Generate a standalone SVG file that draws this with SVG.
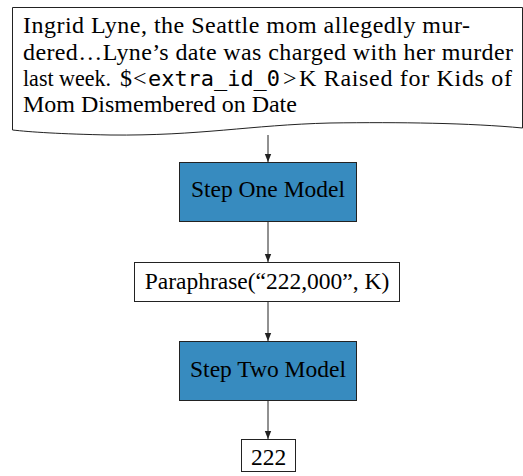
<svg xmlns="http://www.w3.org/2000/svg" width="523" height="476" viewBox="0 0 523 476">
<style>
.t{font-family:"Liberation Serif","Times New Roman",serif;font-size:23.5px;fill:#000}
.d{font-size:24px}
.m{font-family:"DejaVu Sans Mono","Liberation Mono",monospace;font-size:22px}
.box{fill:#fff;stroke:#222;stroke-width:1}
.blue{fill:#378bbf;stroke:#222;stroke-width:1}
.c{stroke:#222;stroke-width:1;fill:none}
</style>
<defs>
<marker id="ah" viewBox="0 0 10 10" refX="10" refY="5" markerWidth="8" markerHeight="8" markerUnits="userSpaceOnUse" orient="auto">
<path d="M0,1 L10,5 L0,9 Z" fill="#222"/>
</marker>
</defs>
<g id="doc">
<path class="box" d="M12.5,7.5 H522.5 V128 C470,123 400,122 330,123 C250,125 200,136 110,135 C60,134 30,132 12.5,130 Z"/>
<text class="t d" x="23" y="33" textLength="447" lengthAdjust="spacing">Ingrid Lyne, the Seattle mom allegedly mur-</text>
<text class="t d" x="23" y="60" textLength="490" lengthAdjust="spacing">dered…Lyne’s date was charged with her murder</text>
<text class="t d" y="86"><tspan x="23" textLength="88" lengthAdjust="spacingAndGlyphs">last week.</tspan><tspan x="120">$</tspan><tspan x="133">&lt;</tspan><tspan x="148" class="m" textLength="132" lengthAdjust="spacingAndGlyphs">extra_id_0</tspan><tspan x="283">&gt;</tspan><tspan x="299" textLength="213" lengthAdjust="spacing">K Raised for Kids of</tspan></text>
<text class="t d" x="23" y="112">Mom Dismembered on Date</text>
</g>
<g id="step1">
<rect class="blue" x="179.5" y="162.5" width="177" height="59"/>
<text class="t" x="268" y="197" text-anchor="middle">Step One Model</text>
</g>
<g id="para">
<rect class="box" x="134.5" y="262.5" width="265" height="39"/>
<text class="t" x="267" y="289" text-anchor="middle">Paraphrase(“222,000”, K)</text>
</g>
<g id="step2">
<rect class="blue" x="179.5" y="341.5" width="177" height="59"/>
<text class="t" x="268" y="377" text-anchor="middle">Step Two Model</text>
</g>
<g id="out">
<rect class="box" x="241.5" y="439.5" width="54" height="32"/>
<text class="t" x="268.5" y="465" text-anchor="middle">222</text>
</g>
<g id="connectors">
<line class="c" x1="268" y1="135" x2="268" y2="162" marker-end="url(#ah)"/>
<line class="c" x1="268" y1="222" x2="268" y2="262" marker-end="url(#ah)"/>
<line class="c" x1="268" y1="302" x2="268" y2="341" marker-end="url(#ah)"/>
<line class="c" x1="268" y1="401" x2="268" y2="439" marker-end="url(#ah)"/>
</g>
</svg>
